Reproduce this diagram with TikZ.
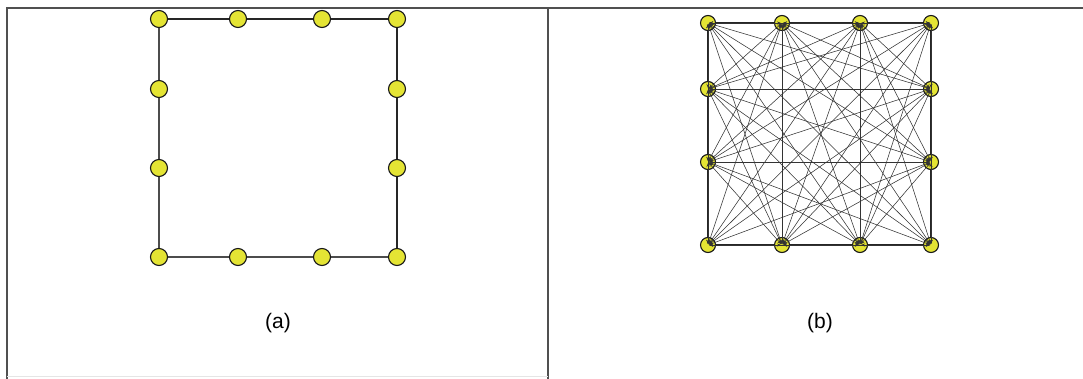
\documentclass[tikz,border=0pt]{standalone}
\usepackage{fontspec}
\setmainfont{Liberation Sans}
\usetikzlibrary{arrows.meta}
\definecolor{nodeyellow}{RGB}{228,228,52}
\definecolor{framegray}{RGB}{80,80,80}
\tikzset{
  vtx/.style={circle,draw=black!90,line width=1.1pt,fill=nodeyellow,minimum size=17pt,inner sep=0pt},
  vtxb/.style={vtx,minimum size=15pt},
  frame/.style={draw=framegray,line width=2pt},
  sq/.style={draw=black!85,line width=1.7pt},
  mesh/.style={draw=black!80,line width=0.55pt,{Stealth[length=4pt,width=3pt]}-{Stealth[length=4pt,width=3pt]},shorten <=1pt,shorten >=1pt},
  lbl/.style={font=\fontsize{21}{24}\selectfont}
}
\begin{document}
\begin{tikzpicture}[x=1pt,y=-1pt]
\useasboundingbox (0,0) rectangle (1083,379);
% frame
\draw[frame] (7,379) -- (7,8.5) -- (1083,8.5);
\draw[frame] (548,8.5) -- (548,379);
\draw[draw=black!10,line width=0.8pt] (7,376) -- (548,376);
% panel (a)
\draw[sq] (159,19) -- (397,19) -- (397,257);
\draw[sq,draw=black!70,line width=1.4pt] (397,257) -- (159,257) -- (159,19);
\foreach \n/\x/\y in {a1/159/19,a2/238/19,a3/322/19,a4/397/19,
  a5/159/89,a6/397/89,a7/159/168,a8/397/168,
  a9/159/257,a10/238/257,a11/322/257,a12/397/257}
  \node[vtx] (\n) at (\x,\y) {};
\node[lbl] (la) at (278,323) {(a)};
% panel (b)
\draw[sq] (708,23) rectangle (931,245);
\foreach \n/\x/\y in {b1/708/23,b2/782/23,b3/860/23,b4/931/23,
  b5/708/89,b6/931/89,b7/708/162,b8/931/162,
  b9/708/245,b10/782/245,b11/860/245,b12/931/245}
  \node[vtxb] (\n) at (\x,\y) {};
\foreach \i in {1,...,11}{
  \pgfmathtruncatemacro{\s}{\i+1}
  \foreach \j in {\s,...,12}{
    \draw[mesh] (b\i.center) -- (b\j.center);
  }
}
\node[lbl] (lb) at (820,323) {(b)};
\end{tikzpicture}
\end{document}
